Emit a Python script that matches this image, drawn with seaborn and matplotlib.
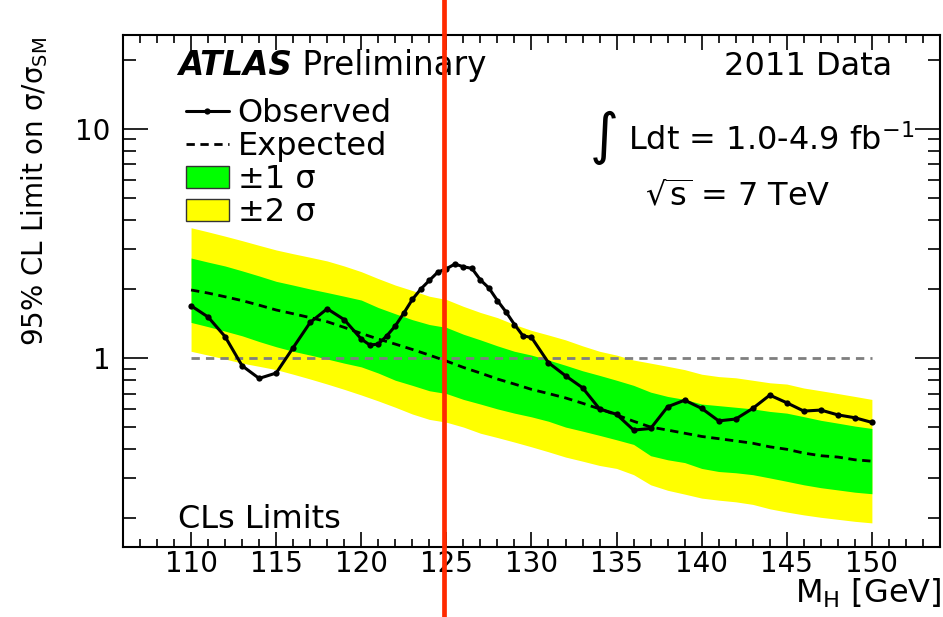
import matplotlib
matplotlib.use("Agg")
import matplotlib.pyplot as plt
from matplotlib.lines import Line2D
from matplotlib.patches import Patch
from matplotlib.ticker import FixedLocator, MultipleLocator, NullFormatter, FuncFormatter
import seaborn as sns

# observed CLs limit (finer 0.5 GeV steps between 120 and 130)
obs_mass = [110, 111, 112, 113, 114, 115, 116, 117, 118, 119,
            120, 120.5, 121, 121.5, 122, 122.5, 123, 123.5, 124, 124.5,
            125, 125.5, 126, 126.5, 127, 127.5, 128, 128.5, 129, 129.5, 130,
            131, 132, 133, 134, 135, 136, 137, 138, 139, 140,
            141, 142, 143, 144, 145, 146, 147, 148, 149, 150]
obs_limit = [1.69, 1.51, 1.24, 0.925, 0.815, 0.86, 1.11, 1.43, 1.64, 1.47,
             1.21, 1.14, 1.15, 1.25, 1.38, 1.57, 1.80, 2.00, 2.18, 2.37,
             2.45, 2.57, 2.50, 2.46, 2.19, 2.02, 1.78, 1.59, 1.40, 1.25, 1.23,
             0.954, 0.837, 0.742, 0.60, 0.568, 0.485, 0.493, 0.613, 0.655, 0.603,
             0.532, 0.542, 0.603, 0.689, 0.638, 0.587, 0.593, 0.565, 0.549, 0.524]

# expected limit and bands
exp_mass = [110, 111, 112, 113, 114, 115, 116, 117, 118, 119,
            120, 121, 122, 123, 124, 125, 126, 127, 128, 129,
            130, 131, 132, 133, 134, 135, 136, 137, 138, 139,
            140, 141, 142, 143, 144, 145, 146, 147, 148, 149, 150]
exp_limit = [1.98, 1.92, 1.85, 1.78, 1.70, 1.62, 1.56, 1.50, 1.44, 1.36,
             1.28, 1.21, 1.15, 1.09, 1.03, 0.97, 0.91, 0.86, 0.81, 0.77,
             0.73, 0.70, 0.67, 0.635, 0.60, 0.565, 0.53, 0.50, 0.485, 0.47,
             0.455, 0.445, 0.435, 0.425, 0.41, 0.40, 0.385, 0.375, 0.37, 0.36, 0.355]
plus2 = [3.70, 3.55, 3.40, 3.25, 3.10, 2.96, 2.85, 2.75, 2.65, 2.52,
         2.38, 2.22, 2.08, 1.97, 1.86, 1.80, 1.68, 1.58, 1.50, 1.40,
         1.32, 1.26, 1.20, 1.13, 1.07, 1.03, 0.98, 0.95, 0.92, 0.89,
         0.85, 0.83, 0.82, 0.80, 0.78, 0.77, 0.74, 0.72, 0.70, 0.68, 0.66]
plus1 = [2.73, 2.62, 2.52, 2.40, 2.28, 2.16, 2.08, 2.00, 1.93, 1.86,
         1.79, 1.66, 1.56, 1.47, 1.40, 1.36, 1.27, 1.20, 1.13, 1.07,
         1.03, 0.98, 0.93, 0.88, 0.84, 0.80, 0.76, 0.71, 0.68, 0.66,
         0.63, 0.62, 0.61, 0.60, 0.585, 0.575, 0.555, 0.535, 0.52, 0.505, 0.493]
minus1 = [1.43, 1.37, 1.31, 1.25, 1.18, 1.12, 1.07, 1.03, 0.99, 0.95,
          0.915, 0.86, 0.80, 0.76, 0.72, 0.70, 0.66, 0.63, 0.60, 0.575,
          0.554, 0.53, 0.50, 0.48, 0.46, 0.44, 0.42, 0.375, 0.36, 0.35,
          0.33, 0.32, 0.316, 0.31, 0.30, 0.29, 0.28, 0.272, 0.266, 0.26, 0.256]
minus2 = [1.07, 1.03, 0.99, 0.95, 0.92, 0.89, 0.85, 0.81, 0.77, 0.73,
          0.69, 0.65, 0.61, 0.57, 0.54, 0.525, 0.50, 0.47, 0.45, 0.43,
          0.41, 0.39, 0.37, 0.355, 0.34, 0.33, 0.31, 0.28, 0.265, 0.255,
          0.245, 0.24, 0.236, 0.23, 0.22, 0.213, 0.207, 0.202, 0.198, 0.194, 0.191]

ref_range = [110, 150]
higgs_mass = 124.85

sns.set_theme(style="ticks")
plt.rcParams["font.family"] = ["DejaVu Sans"]
plt.rcParams["mathtext.fontset"] = "dejavusans"
plt.rcParams["text.color"] = "black"
plt.rcParams["axes.labelcolor"] = "black"

GREEN = "#00ff00"
YELLOW = "#ffff00"
FS = 23

fig = plt.figure(figsize=(9.43, 6.17), dpi=100)
ax = fig.add_axes([0.1304, 0.1135, 0.8664, 0.829])
ax.set_facecolor("white")

ax.fill_between(exp_mass, minus2, plus2, color=YELLOW, lw=0, zorder=1)
ax.fill_between(exp_mass, minus1, plus1, color=GREEN, lw=0, zorder=2)
ax.hlines(1, ref_range[0], ref_range[1], colors="#7f7f7f", lw=2,
          linestyles=(0, (3, 2.2)), zorder=3)

sns.lineplot(x=exp_mass, y=exp_limit, ax=ax, color="black", lw=2, zorder=4)
ax.lines[-1].set_dashes([3, 2])
sns.lineplot(x=obs_mass, y=obs_limit, ax=ax, color="black", lw=2.2,
             marker="o", markersize=4.5, markeredgewidth=0, zorder=5)

# red marker line across the whole picture
ax.axvline(higgs_mass, ymin=-70 / 511, ymax=1 + 36 / 511, color="#ff2a00",
           lw=3.4, clip_on=False, zorder=10)

ax.set_yscale("log")
ax.set_xlim(106, 154)
ax.set_ylim(0.15, 25.5)
ax.xaxis.set_major_locator(MultipleLocator(5))
ax.xaxis.set_minor_locator(MultipleLocator(1))
ax.yaxis.set_major_locator(FixedLocator([1, 10]))
ax.yaxis.set_minor_locator(FixedLocator([0.2, 0.3, 0.4, 0.5, 0.6, 0.7, 0.8, 0.9,
                                         2, 3, 4, 5, 6, 7, 8, 9, 20]))
ax.yaxis.set_major_formatter(FuncFormatter(lambda v, p: f"{v:g}"))
ax.yaxis.set_minor_formatter(NullFormatter())

ax.tick_params(axis="both", which="both", direction="in", top=True, right=True,
               width=1.2, color="black", labelsize=20, labelcolor="black")
ax.tick_params(axis="y", which="major", length=18, pad=9)
ax.tick_params(axis="y", which="minor", length=9)
ax.tick_params(axis="x", which="major", length=11, pad=2)
ax.tick_params(axis="x", which="minor", length=5.5)
for s in ax.spines.values():
    s.set_linewidth(1.5)
    s.set_color("black")

ax.set_xlabel(r"M$_\mathrm{H}$ [GeV]", fontsize=FS, ha="right", va="baseline")
ax.xaxis.set_label_coords(1.0024, -0.1096)
ax.set_ylabel(r"95% CL Limit on σ/σ$_\mathrm{SM}$", fontsize=20,
              ha="right", va="center")
ax.yaxis.set_label_coords(-0.1077, 0.998)

tr = ax.transAxes
atlas = ax.text(0.0673, 0.9237, "ATLAS", transform=tr, fontsize=FS + 0.5,
                fontweight="bold", fontstyle="italic", va="baseline")
ax.annotate(" Preliminary", xy=(1, 0), xycoords=atlas, fontsize=FS + 0.5,
            va="bottom", ha="left")
ax.text(0.9412, 0.9237, "2011 Data", transform=tr, fontsize=FS,
        ha="right", va="baseline")
ax.text(0.5716, 0.8004, "∫", transform=tr, fontsize=40, va="center")
ax.text(0.6181, 0.7769, r"Ldt = 1.0-4.9 fb$^{-1}$", transform=tr,
        fontsize=FS, va="baseline")
ax.text(0.639, 0.6654, r"$\sqrt{\mathrm{s}}$ = 7 TeV", transform=tr,
        fontsize=FS, va="baseline")
ax.text(0.0673, 0.0372, "CLs Limits", transform=tr, fontsize=FS,
        va="baseline")

handles = [
    Line2D([], [], color="black", lw=2.2, marker="o", markersize=4.5,
           markeredgewidth=0),
    Line2D([], [], color="black", lw=2, dashes=[3, 2]),
    Patch(facecolor=GREEN, edgecolor="#333333", lw=1),
    Patch(facecolor=YELLOW, edgecolor="#333333", lw=1),
]
labels = ["Observed", "Expected", "±1 σ", "±2 σ"]
ax.legend(handles, labels, loc="upper left", bbox_to_anchor=(0.077, 0.877),
          frameon=False, fontsize=FS, numpoints=1, borderpad=0,
          borderaxespad=0, handlelength=1.34, handleheight=0.72,
          handletextpad=0.28, labelspacing=0.06)

fig.savefig("out.png", dpi=100)
